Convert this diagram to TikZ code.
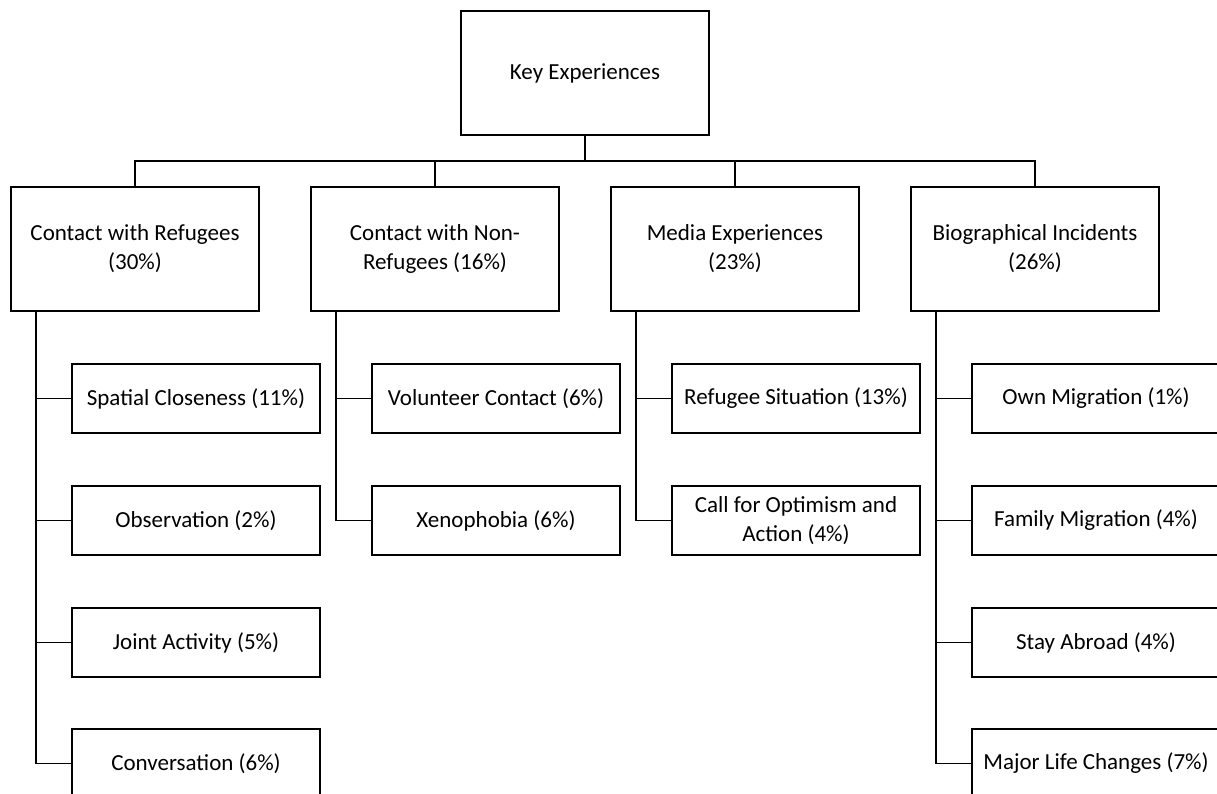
\documentclass[tikz,border=0pt]{standalone}
\usepackage{fontspec}
\setmainfont{Carlito}
\usepackage{tikz}
\usetikzlibrary{positioning}
\tikzset{
  box/.style={rectangle,draw,line width=1.7pt,minimum width=248pt,
    minimum height=124pt,align=center,inner sep=2pt,outer sep=0pt,
    font=\fontsize{23}{29}\selectfont},
  sbox/.style={box,minimum height=69pt},
  lnk/.style={line width=1.7pt},
}

\begin{document}
\begin{tikzpicture}[node distance=52pt]
\useasboundingbox (-585pt,73pt) rectangle (632pt,-721pt);

\node[box] (root) {Key Experiences};
\node[box,below=52pt of root,xshift=-450pt] (ref) {Contact with Refugees\\(30\%)};
\node[box,right=of ref] (nonref) {Contact with Non-\\Refugees (16\%)};
\node[box,right=of nonref] (media) {Media Experiences\\(23\%)};
\node[box,right=of media] (bio) {Biographical Incidents\\(26\%)};

\node[sbox,below=53pt of ref.south west,anchor=north west,xshift=61pt] (spatial) {Spatial Closeness (11\%)};
\node[sbox,below=53pt of spatial] (obs) {Observation (2\%)};
\node[sbox,below=53pt of obs] (joint) {Joint Activity (5\%)};
\node[sbox,below=52pt of joint] (conv) {Conversation (6\%)};

\node[sbox,below=53pt of nonref.south west,anchor=north west,xshift=61pt] (vol) {Volunteer Contact (6\%)};
\node[sbox,below=53pt of vol] (xeno) {Xenophobia (6\%)};

\node[sbox,below=53pt of media.south west,anchor=north west,xshift=61pt] (sit) {Refugee Situation (13\%)};
\node[sbox,below=53pt of sit] (call) {Call for Optimism and\\Action (4\%)};

\node[sbox,below=53pt of bio.south west,anchor=north west,xshift=61pt] (own) {Own Migration (1\%)};
\node[sbox,below=53pt of own] (fam) {Family Migration (4\%)};
\node[sbox,below=53pt of fam] (stay) {Stay Abroad (4\%)};
\node[sbox,below=52pt of stay] (major) {Major Life Changes (7\%)};

\draw[lnk] (root.south) -- ++(0,-26pt) -| (ref.north);
\draw[lnk] (root.south) -- ++(0,-26pt) -| (nonref.north);
\draw[lnk] (root.south) -- ++(0,-26pt) -| (media.north);
\draw[lnk] (root.south) -- ++(0,-26pt) -| (bio.north);

\draw[lnk] ([xshift=25pt]ref.south west) |- (spatial.west);
\draw[lnk] ([xshift=25pt]ref.south west) |- (obs.west);
\draw[lnk] ([xshift=25pt]ref.south west) |- (joint.west);
\draw[lnk] ([xshift=25pt]ref.south west) |- (conv.west);
\draw[lnk] ([xshift=25pt]nonref.south west) |- (vol.west);
\draw[lnk] ([xshift=25pt]nonref.south west) |- (xeno.west);
\draw[lnk] ([xshift=25pt]media.south west) |- (sit.west);
\draw[lnk] ([xshift=25pt]media.south west) |- (call.west);
\draw[lnk] ([xshift=25pt]bio.south west) |- (own.west);
\draw[lnk] ([xshift=25pt]bio.south west) |- (fam.west);
\draw[lnk] ([xshift=25pt]bio.south west) |- (stay.west);
\draw[lnk] ([xshift=25pt]bio.south west) |- (major.west);
\end{tikzpicture}
\end{document}
